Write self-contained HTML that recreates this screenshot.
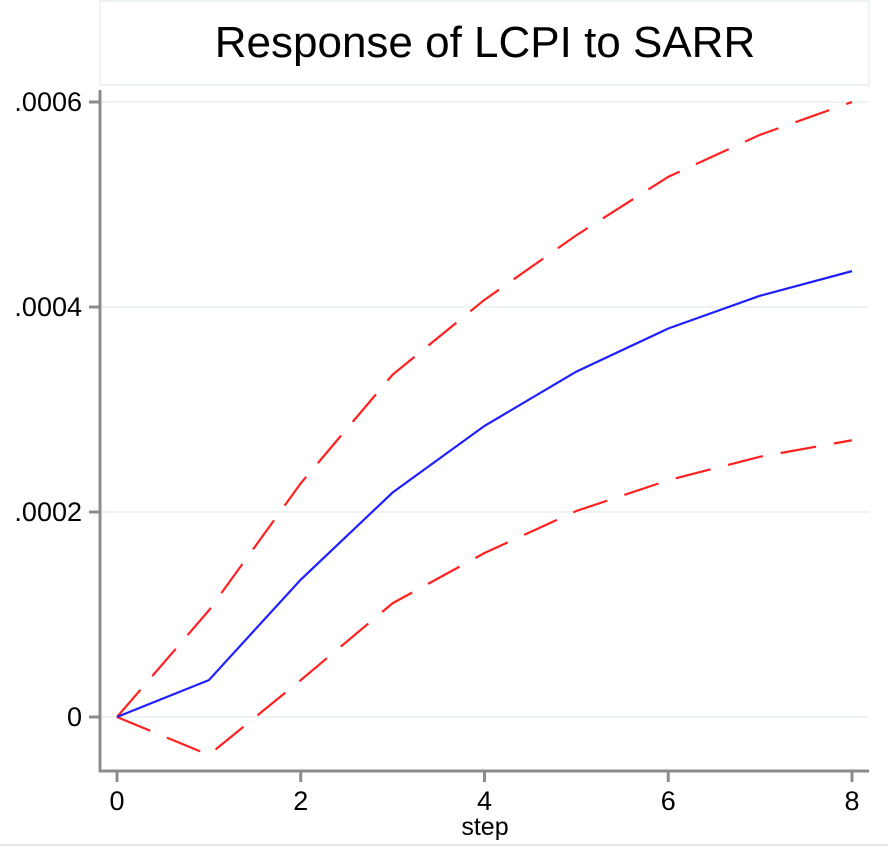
<!DOCTYPE html>
<html><head><meta charset="utf-8"><style>
html,body{margin:0;padding:0;background:#fff;}
svg{display:block;font-family:"Liberation Sans",Arial,sans-serif;}
</style></head><body>
<svg id="chart" width="888" height="847">
<rect x="0" y="0" width="888" height="847" fill="#fff"/>
<rect x="100" y="1" width="769" height="84" fill="none" stroke="#eef3f3" stroke-width="2"/>
<text x="485" y="57" font-size="44" text-anchor="middle" fill="#000">Response of LCPI to SARR</text>
<g id="grid"></g>
<g id="axes"></g>
<g id="series"></g>
<text x="485" y="835" font-size="25" text-anchor="middle" fill="#000">step</text>
<line x1="0" y1="845" x2="888" y2="845" stroke="#e6e6e6" stroke-width="2"/>
</svg>
<script>
const steps=[0,1,2,3,4,5,6,7,8];
const irf=[0,0.000036,0.000134,0.000219,0.000284,0.000337,0.000379,0.000411,0.000435];
const upper=[0,0.000104,0.000228,0.000334,0.000407,0.00047,0.000527,0.000568,0.0006];
const lower=[0,-0.000037,0.000036,0.000111,0.00016,0.000201,0.000231,0.000254,0.00027];
const yTicks=[0,0.0002,0.0004,0.0006];
const yTickLabels=["0",".0002",".0004",".0006"];
const xTicks=[0,2,4,6,8];
const ns="http://www.w3.org/2000/svg";
const X=v=>117+(852-117)*v/8;
const Y=v=>717-(717-102)*v/0.0006;
function mk(tag,attrs,parent){const e=document.createElementNS(ns,tag);for(const k in attrs)e.setAttribute(k,attrs[k]);parent.appendChild(e);return e;}
const grid=document.getElementById('grid'),axes=document.getElementById('axes'),ser=document.getElementById('series');
yTicks.forEach((t,i)=>{
  const g=mk('line',{x1:101,x2:869,y1:Y(t),y2:Y(t),stroke:'#eef3f3','stroke-width':2},grid);
  
  
  mk('line',{x1:89,x2:100,y1:Y(t),y2:Y(t),stroke:'#8c8c8c','stroke-width':3},axes);
  const tx=mk('text',{x:82,y:Y(t)+9,'font-size':27,'text-anchor':'end',fill:'#000'},axes);
  tx.textContent=yTickLabels[i];
  
  
});
xTicks.forEach(t=>{
  mk('line',{x1:X(t),x2:X(t),y1:771,y2:782,stroke:'#8c8c8c','stroke-width':3},axes);
  const tx=mk('text',{x:X(t),y:810,'font-size':27,'text-anchor':'middle',fill:'#000'},axes);
  tx.textContent=String(t);
  
  
});
const ya=mk('line',{x1:100,x2:100,y1:90,y2:772,stroke:'#8c8c8c','stroke-width':3},axes);


const xa=mk('line',{x1:99,x2:869,y1:771,y2:771,stroke:'#8c8c8c','stroke-width':3},axes);


function pts(arr){return arr.map((v,i)=>X(steps[i])+','+Y(v)).join(' ');}
const up=mk('polyline',{points:pts(upper),fill:'none',stroke:'#ff2020','stroke-width':2.2,'stroke-dasharray':'36 18'},ser);


const lo=mk('polyline',{points:pts(lower),fill:'none',stroke:'#ff2020','stroke-width':2.2,'stroke-dasharray':'36 18'},ser);


const ir=mk('polyline',{points:pts(irf),fill:'none',stroke:'#2020ff','stroke-width':2.2},ser);


</script>
</body></html>
